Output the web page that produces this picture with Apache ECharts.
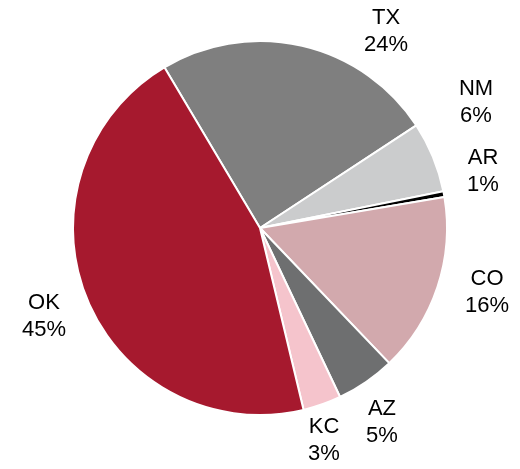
<!DOCTYPE html>
<html>
<head>
<meta charset="utf-8">
<script src="https://cdn.jsdelivr.net/npm/echarts@6/dist/echarts.min.js"></script>
<style>html,body{margin:0;padding:0;background:#fff;}#c{width:520px;height:469px;}</style>
</head>
<body>
<div id="c"></div>
<script>
var categories = ['TX', 'NM', 'AR', 'CO', 'AZ', 'KC', 'OK'];
var shares = [24.3, 6.1, 0.5, 15.5, 5.1, 3.3, 45.2];
var colors = ['#7f7f7f', '#cbcccd', '#000000', '#d2a9ad', '#6e6f70', '#f5c4cc', '#a6192e'];
var labelPos = [[386, 31], [476, 102], [483, 171], [487, 292], [382, 422], [324, 440], [44, 316]];

var chart = echarts.init(document.getElementById('c'), null, {renderer: 'canvas'});
chart.setOption({
  animation: false,
  series: [{
    type: 'pie',
    center: [260, 228],
    radius: [0, 187],
    startAngle: 120.75,
    clockwise: true,
    avoidLabelOverlap: false,
    itemStyle: {borderColor: '#ffffff', borderWidth: 2},
    label: {
      show: true,
      position: 'outside',
      fontFamily: 'Liberation Sans, Arial, sans-serif',
      fontSize: 22,
      lineHeight: 27,
      color: '#000',
      align: 'center',
      verticalAlign: 'middle',
      formatter: function (p) { return p.name + '\n' + Math.round(p.value) + '%'; }
    },
    labelLine: {show: false},
    labelLayout: function (params) {
      var pos = labelPos[params.dataIndex];
      return {x: pos[0], y: pos[1], align: 'center', verticalAlign: 'middle'};
    },
    emphasis: {disabled: true},
    data: categories.map(function (c, i) {
      return {name: c, value: shares[i], itemStyle: {color: colors[i]}};
    })
  }]
});
</script>
</body>
</html>
